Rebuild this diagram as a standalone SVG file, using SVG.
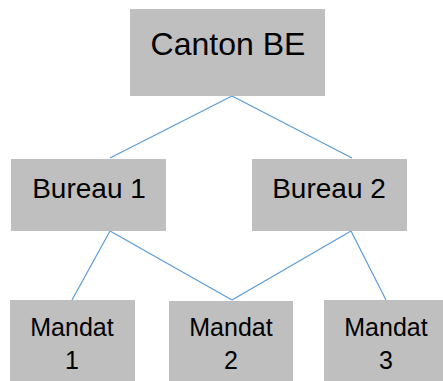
<svg xmlns="http://www.w3.org/2000/svg" width="443" height="381" viewBox="0 0 443 381">
<style>
.box{fill:#bfbfbf}
.t{font-family:"Liberation Sans",Arial,sans-serif;fill:#000;text-anchor:middle}
.c{stroke:#5b9bd5;stroke-width:1.2;fill:none}
</style>
<rect width="443" height="381" fill="#fff"/>
<g id="connectors">
<line class="c" x1="232" y1="96" x2="110" y2="158"/>
<line class="c" x1="232" y1="96" x2="352" y2="158"/>
<line class="c" x1="110" y1="231" x2="72" y2="300"/>
<line class="c" x1="110" y1="231" x2="232" y2="300"/>
<line class="c" x1="351" y1="231" x2="232" y2="300"/>
<line class="c" x1="351" y1="231" x2="386" y2="300"/>
</g>
<g id="canton"><rect class="box" x="130" y="9" width="195" height="87"/><text class="t" x="228" y="55" font-size="32">Canton BE</text></g>
<g id="bureau1"><rect class="box" x="11" y="159" width="155" height="72"/><text class="t" x="89" y="198" font-size="28">Bureau 1</text></g>
<g id="bureau2"><rect class="box" x="252" y="159" width="155" height="72"/><text class="t" x="329" y="198" font-size="28">Bureau 2</text></g>
<g id="mandat1"><rect class="box" x="10" y="300" width="125" height="81"/><text class="t" x="72" y="336" font-size="25">Mandat</text><text class="t" x="72" y="369" font-size="25">1</text></g>
<g id="mandat2"><rect class="box" x="169" y="301" width="124" height="80"/><text class="t" x="231" y="336" font-size="25">Mandat</text><text class="t" x="231" y="369" font-size="25">2</text></g>
<g id="mandat3"><rect class="box" x="324" y="300" width="119" height="81"/><text class="t" x="386" y="336" font-size="25">Mandat</text><text class="t" x="386" y="369" font-size="25">3</text></g>
</svg>
